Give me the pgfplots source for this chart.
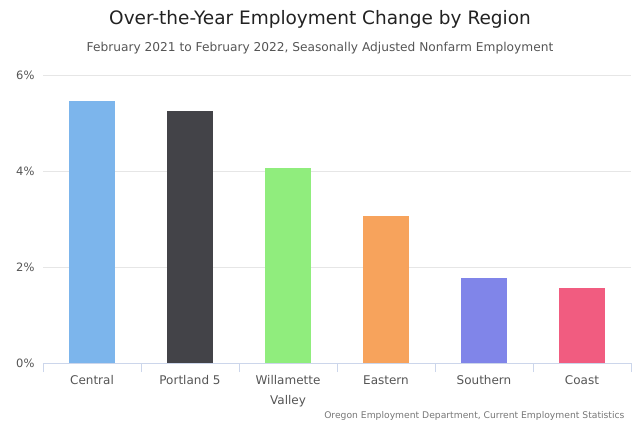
\documentclass[border=0pt]{standalone}
\usepackage{pgfplots}
\pgfplotsset{compat=1.18}
\usepackage{fontspec}
\setmainfont{DejaVu Sans}
\definecolor{c1}{HTML}{7CB5EC}
\definecolor{c2}{HTML}{434348}
\definecolor{c3}{HTML}{90ED7D}
\definecolor{c4}{HTML}{F7A35C}
\definecolor{c5}{HTML}{8085E9}
\definecolor{c6}{HTML}{F15C80}
\definecolor{txt}{HTML}{222222}
\definecolor{lbl}{HTML}{555555}
\definecolor{axl}{HTML}{CCD6EB}
\definecolor{grd}{HTML}{E6E6E6}
\begin{document}
\begin{tikzpicture}
\path[use as bounding box] (0pt,0pt) rectangle (639pt,426pt);
\node[text=txt,font=\fontsize{18.5}{21}\selectfont] at (320pt,407pt) {Over-the-Year Employment Change by Region};
\node[text=lbl,font=\fontsize{12.2}{14}\selectfont] at (320pt,378pt) {February 2021 to February 2022, Seasonally Adjusted Nonfarm Employment};
\begin{axis}[
    at={(43pt,63pt)}, anchor=south west,
    scale only axis,
    width=588pt, height=288pt,
    ybar, bar width=46pt, bar shift=0pt,
    xmin=-0.5, xmax=5.5,
    ymin=0, ymax=6,
    ytick={0,2,4,6},
    yticklabel={\pgfmathprintnumber{\tick}\%},
    yticklabel style={text=lbl,font=\fontsize{11.5}{13}\selectfont,xshift=4pt},
    /pgf/number format/assume math mode=true,
    xtick={-0.5,0.5,1.5,2.5,3.5,4.5,5.5},
    xticklabels={},
    tick align=outside,
    major tick length=9pt,
    xtick style={axl,line width=0.8pt},
    ymajorgrids=true,
    grid style={grd,line width=0.8pt},
    axis x line*=bottom,
    axis y line*=left,
    y axis line style={draw=none},
    x axis line style={axl,line width=0.8pt,-},
    ytick style={draw=none},
    clip=false,
]
\addplot[fill=c1,draw=none] coordinates {(0,5.46)};
\addplot[fill=c2,draw=none] coordinates {(1,5.25)};
\addplot[fill=c3,draw=none] coordinates {(2,4.06)};
\addplot[fill=c4,draw=none] coordinates {(3,3.06)};
\addplot[fill=c5,draw=none] coordinates {(4,1.77)};
\addplot[fill=c6,draw=none] coordinates {(5,1.56)};
\end{axis}
\begin{axis}[
    at={(43pt,63pt)}, anchor=south west,
    scale only axis,
    width=588pt, height=288pt,
    xmin=-0.5, xmax=5.5,
    ymin=0, ymax=6,
    hide y axis,
    axis x line*=bottom,
    x axis line style={draw=none},
    xtick={0,1,2,3,4,5},
    xticklabels={Central,Portland 5,{Willamette\\Valley},Eastern,Southern,Coast},
    xticklabel style={text=lbl,font=\fontsize{12}{20}\selectfont,align=center,anchor=north,yshift=-9pt},
    xtick style={draw=none},
]
\end{axis}
\node[text=lbl!80,font=\fontsize{9.2}{11}\selectfont,anchor=east] at (628pt,10pt) {Oregon Employment Department, Current Employment Statistics};
\end{tikzpicture}
\end{document}
